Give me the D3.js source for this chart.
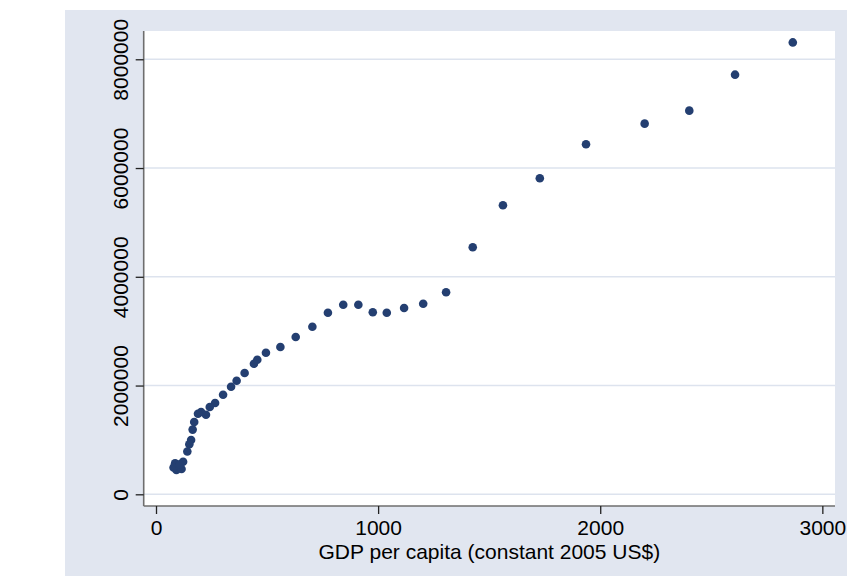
<!DOCTYPE html>
<html>
<head>
<meta charset="utf-8">
<script src="https://cdn.jsdelivr.net/npm/d3@7"></script>
<style>
  html, body { margin: 0; padding: 0; background: #ffffff; }
  svg { display: block; }
  text { font-family: "Liberation Sans", Arial, sans-serif; fill: #000; }
</style>
</head>
<body>
<svg id="chart" width="847" height="576"></svg>
<script>
// GDP per capita (constant 2005 US$) and the matching y values, one entry per observation
const gdpPerCapita = [
  2867, 2607, 2401, 2200, 1936, 1728, 1562, 1426, 1306, 1203,
  1117, 1039, 976, 911, 843, 774, 704, 629, 560, 495,
  456, 441, 399, 363, 338, 302, 266, 242, 225, 203,
  189, 172, 165, 158, 150, 141, 86, 122, 92, 115,
  79, 104, 108
];
const yValues = [
  8310000, 7717000, 7055000, 6816000, 6437000, 5811000, 5315000, 4543000, 3715000, 3505000,
  3426000, 3340000, 3347000, 3487000, 3487000, 3340000, 3082000, 2893000, 2709000, 2604000,
  2475000, 2402000, 2231000, 2089000, 1979000, 1832000, 1679000, 1606000, 1464000, 1514000,
  1482000, 1330000, 1190000, 999000, 920000, 787000, 570000, 600000, 447000, 465000,
  493000, 520000, 550000
];
const xTicks = [0, 1000, 2000, 3000];
const yTicks = [0, 2000000, 4000000, 6000000, 8000000];
const xTitle = "GDP per capita (constant 2005 US$)";

const svg = d3.select("#chart");
const W = 847, H = 576;
const region = { x: 65, y: 10 };
const plot = { left: 143.7, right: 835, top: 31, bottom: 506 };

// graph region background
svg.append("rect")
  .attr("x", region.x).attr("y", region.y)
  .attr("width", W - region.x).attr("height", H - region.y)
  .attr("fill", "#e1e6f0");

// plot area
svg.append("rect")
  .attr("x", plot.left).attr("y", plot.top)
  .attr("width", plot.right - plot.left).attr("height", plot.bottom - plot.top)
  .attr("fill", "#ffffff");

const x = d3.scaleLinear().domain([-55.4, 3057]).range([plot.left, plot.right]);
const y = d3.scaleLinear().domain([-215000, 8520000]).range([plot.bottom, plot.top]);

// horizontal gridlines
svg.append("g")
  .selectAll("line")
  .data(yTicks)
  .join("line")
  .attr("x1", plot.left).attr("x2", plot.right)
  .attr("y1", d => y(d)).attr("y2", d => y(d))
  .attr("stroke", "#dde3ee")
  .attr("stroke-width", 1.6);

// y axis
const yAxis = svg.append("g")
  .attr("transform", `translate(${plot.left},0)`)
  .call(d3.axisLeft(y).tickValues(yTicks).tickFormat(d3.format("d")).tickSize(8).tickPadding(0));
yAxis.select(".domain").attr("stroke", "#6e6e6e").attr("stroke-width", 1.6)
  .attr("d", `M0,${plot.top}V${plot.bottom}`);
yAxis.selectAll(".tick line").attr("stroke", "#222").attr("stroke-width", 1.3);
yAxis.selectAll(".tick text")
  .attr("font-size", 21)
  .attr("text-anchor", "middle")
  .attr("x", null).attr("dy", null)
  .attr("transform", "translate(-15.5,0) rotate(-90)");

// x axis
const xAxis = svg.append("g")
  .attr("transform", `translate(0,${plot.bottom})`)
  .call(d3.axisBottom(x).tickValues(xTicks).tickFormat(d3.format("d")).tickSize(8).tickPadding(0));
xAxis.select(".domain").attr("stroke", "#6e6e6e").attr("stroke-width", 1.6)
  .attr("d", `M${plot.left},0H${plot.right}`);
xAxis.selectAll(".tick line").attr("stroke", "#222").attr("stroke-width", 1.3);
xAxis.selectAll(".tick text")
  .attr("font-size", 21)
  .attr("y", 29).attr("dy", null);

svg.selectAll(".tick text").style("font-family", "'Liberation Sans', Arial, sans-serif").attr("fill", "#000");

// axis title
svg.append("text")
  .attr("x", (plot.left + plot.right) / 2)
  .attr("y", 559)
  .attr("text-anchor", "middle")
  .attr("font-size", 21)
  .text(xTitle);

// scatter points
const points = gdpPerCapita.map((g, i) => ({ g, v: yValues[i] }));
svg.append("g")
  .selectAll("circle")
  .data(points)
  .join("circle")
  .attr("cx", d => x(d.g))
  .attr("cy", d => y(d.v))
  .attr("r", 4.3)
  .attr("fill", "#243f71");
</script>
</body>
</html>
